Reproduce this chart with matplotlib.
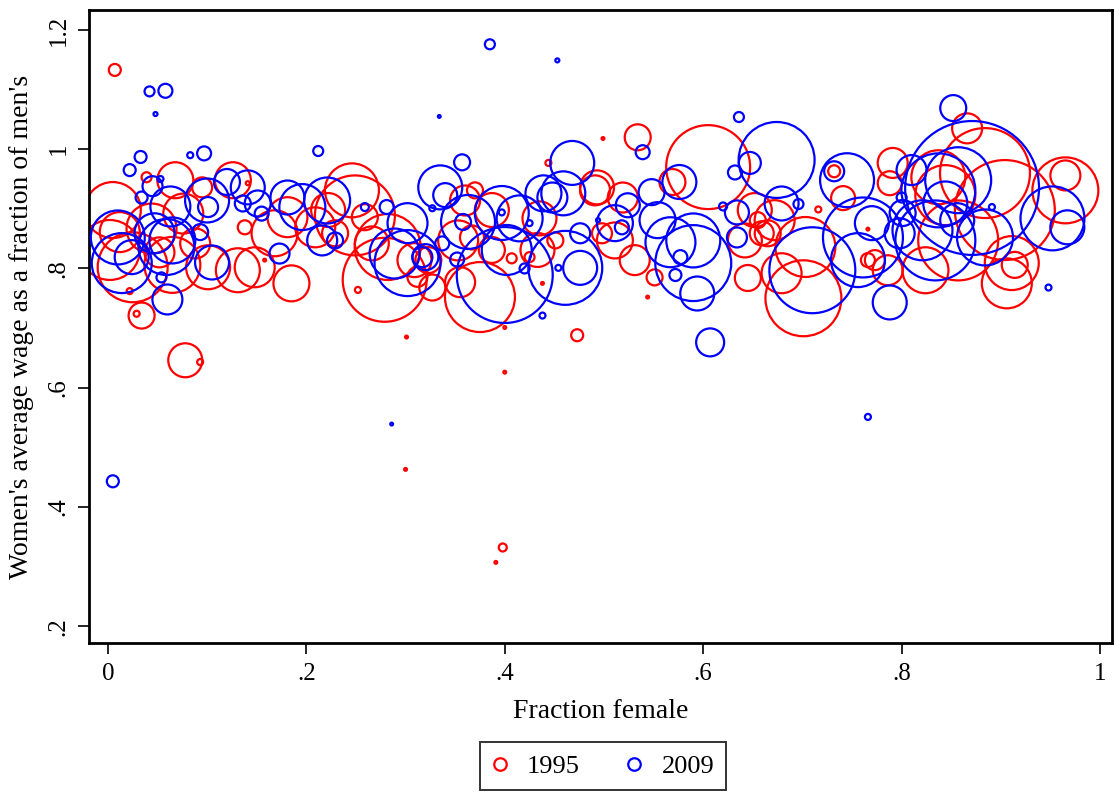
import numpy as np
import matplotlib.pyplot as plt
from matplotlib.lines import Line2D

plt.rcParams['font.family'] = ['Liberation Serif', 'DejaVu Serif']

# 1995: fraction female, relative wage, employment weight
frac_1995 = [.007, .005, .002, .025, .068, .034, .029, .078, .093, .095,
             .126, .101, .131, .138, .088, .039, .141, .012, .044, .052,
             .076, .022, .065,
             .246, .249, .168, .185, .148, .279, .282, .309, .312, .266,
             .259, .301, .158, .252, .209, .229, .181, .222,
             .444, .370, .360, .387, .353, .367, .387, .435, .433, .451,
             .407, .425, .375, .355, .491, .498, .473, .400, .438, .499,
             .323, .327, .400, .300, .398, .391,
             .534, .605, .569, .519, .493, .511, .531, .551, .544, .652,
             .642, .659, .645, .701, .655,
             .672, .665, .703, .679, .716, .732, .741, .766, .773, .766,
             .786, .791, .788, .824, .837,
             .866, .904, .884, .965, .965, .911, .914, .906, .857, .844]
wage_1995 = [1.133, .898, .831, .802, .948, .721, .724, .646, .643, .936,
             .948, .802, .797, .869, .842, .953, .943, .861, .867, .827,
             .892, .762, .806,
             .931, .889, .859, .775, .802, .781, .836, .814, .786, .842,
             .886, .685, .814, .764, .869, .859, .886, .898,
             .977, .931, .914, .898, .847, .852, .831, .884, .831, .847,
             .817, .819, .752, .777, .931, .859, .688, .701, .775, 1.018,
             .814, .768, .626, .463, .332, .307,
             1.020, .970, .945, .919, .936, .847, .814, .785, .752, .898,
             .847, .859, .784, .750, .881,
             .881, .859, .836, .792, .899, .963, .918, .866, .814, .814,
             .797, .977, .943, .797, .953,
             1.035, .898, .960, .931, .956, .809, .806, .775, .847, .923]
emp_1995 = [.36, 7.84, 9.0, 12.25, 3.24, 1.69, .09, 2.89, .09, 1.0,
            3.24, 4.84, 4.84, .49, 2.25, .25, .04, 4.0, 6.25, 2.25,
            4.0, .09, 7.84,
            7.29, 16.0, 5.29, 3.24, 4.0, 17.64, 10.89, 2.89, 1.0, 2.89,
            1.69, .02, .02, .09, 4.0, 1.69, 4.0, 2.89,
            .09, .64, 2.25, 2.89, 4.0, 1.44, 1.69, 2.89, 2.89, .64,
            .25, .25, 12.25, 2.25, 2.25, 1.0, .36, .02, .02, .02,
            1.69, 1.69, .02, .02, .16, .02,
            1.69, 17.64, 1.69, 2.25, 2.89, 3.24, 2.25, .64, .02, 2.89,
            2.89, 1.44, 1.69, 14.44, .64,
            4.0, 1.69, 9.0, 4.0, .09, .36, 1.44, .02, 1.0, .49,
            2.25, 2.25, 1.44, 5.29, 7.29,
            2.25, 25.0, 20.25, 10.89, 2.25, 7.29, 1.69, 6.25, 16.0, 9.0]

# 2009
frac_2009 = [.005, .048, .042, .058, .033, .022, .097, .083, .053, .045,
             .034, .063, .100, .120, .141, .151, .010, .014, .024, .047,
             .059, .065, .105, .093, .101, .054, .060, .136,
             .212, .181, .196, .221, .216, .173, .155, .259, .281, .302,
             .289, .302, .229, .317, .286, .385, .453,
             .334, .357, .335, .340, .327, .363, .358, .397, .415, .397,
             .425, .402, .400, .468, .439, .448, .459, .476, .461, .476,
             .454, .420, .438, .337, .352, .320,
             .636, .539, .576, .548, .524, .511, .518, .554, .567, .590,
             .590, .577, .572, .594, .607, .632, .647, .674, .634, .620,
             .634, .494,
             .679, .696, .745, .732, .710, .761, .770, .756, .788, .798,
             .810, .800, .801, .821, .837, .852, .766,
             .871, .857, .844, .856, .884, .834, .952, .967, .891, .948]
wage_2009 = [.443, 1.059, 1.097, 1.098, .987, .965, .993, .990, .950, .938,
             .919, .904, .914, .945, .936, .909, .852, .809, .819, .859,
             .836, .847, .810, .861, .903, .785, .748, .909,
             .997, .919, .903, .914, .847, .825, .892, .903, .903, .876,
             .825, .809, .847, .819, .539, 1.176, 1.149,
             1.055, .978, .936, .923, .901, .878, .878, .893, .884, .894,
             .876, .831, .789, .977, .926, .919, .926, .859, .801, .801,
             .801, .800, .721, .842, .815, .819,
             1.054, .995, .945, .928, .906, .876, .869, .881, .844, .847,
             .809, .819, .789, .758, .676, .961, .977, .982, .894, .904,
             .852, .881,
             .909, .908, .948, .963, .797, .852, .876, .814, .743, .859,
             .965, .919, .893, .864, .931, 1.069, .551,
             .935, .948, .909, .881, .852, .847, .884, .869, .903, .768]
emp_2009 = [.36, .04, .25, .49, .36, .36, .49, .09, .09, 1.0,
            .36, 4.0, 4.84, 1.69, 2.89, 1.69, 7.29, 9.0, 2.89, 4.0,
            7.84, 5.29, 2.89, .64, 1.0, .25, 2.25, .64,
            .25, 2.89, 5.29, 5.29, 2.25, 1.0, .49, .16, .49, 4.0,
            6.25, 10.89, .64, 1.0, .02, .25, .04,
            .02, .64, 4.84, 1.44, .09, 7.29, .64, 7.29, 5.29, .09,
            .09, 6.25, 23.04, 4.84, 3.24, 2.25, 4.84, 1.0, 13.69, 2.89,
            .09, .25, .09, .49, .49, 1.69,
            .25, .49, 2.89, 1.69, 1.44, 3.24, .49, 3.24, 6.25, 7.29,
            14.44, .49, .36, 2.89, 1.96, .49, 1.21, 14.44, 1.44, .16,
            1.0, .04,
            2.89, .25, 7.29, 1.0, 18.49, 16.0, 2.89, 7.29, 2.89, 2.25,
            2.25, .25, 1.69, 9.0, 13.69, 1.69, .09,
            44.89, 10.89, 4.84, 2.89, 7.84, 16.0, 10.24, 2.89, .09, .09]

xticks = [0, .2, .4, .6, .8, 1]
xtick_labels = ['0', '.2', '.4', '.6', '.8', '1']
yticks = [.2, .4, .6, .8, 1, 1.2]
ytick_labels = ['.2', '.4', '.6', '.8', '1', '1.2']

RED = '#ff0000'
BLUE = '#0000ff'
SCALE = 207.0  # marker area per unit of employment weight

fig = plt.figure(figsize=(11.14, 7.96), dpi=100)
ax = fig.add_axes([0.0799, 0.192, 0.9183, 0.7955])

ax.scatter(frac_1995, wage_1995, s=np.array(emp_1995) * SCALE,
           facecolors='none', edgecolors=RED, linewidths=1.6, zorder=2)
ax.scatter(frac_2009, wage_2009, s=np.array(emp_2009) * SCALE,
           facecolors='none', edgecolors=BLUE, linewidths=1.6, zorder=3)

ax.set_xlim(-0.019, 1.012)
ax.set_ylim(0.1715, 1.2336)

ax.set_xticks(xticks)
ax.set_xticklabels(xtick_labels, fontsize=18)
ax.set_yticks(yticks)
ax.set_yticklabels(ytick_labels, fontsize=18, rotation=90, va='center')
ax.tick_params(direction='out', length=8, width=1.2, pad=6)

for sp in ax.spines.values():
    sp.set_linewidth(2.0)

ax.set_xlabel('Fraction female', fontsize=20, labelpad=10)
ax.set_ylabel("Women's average wage as a fraction of men's", fontsize=20,
              labelpad=10)

handles = [Line2D([], [], ls='none', marker='o', markersize=9,
                  markerfacecolor='none', markeredgecolor=RED,
                  markeredgewidth=1.6, label='1995'),
           Line2D([], [], ls='none', marker='o', markersize=9,
                  markerfacecolor='none', markeredgecolor=BLUE,
                  markeredgewidth=1.6, label='2009')]
leg = fig.legend(handles=handles, loc='center', ncol=2,
                 bbox_to_anchor=(603 / 1114, 30 / 796), fontsize=19,
                 frameon=True, fancybox=False, edgecolor='black',
                 handlelength=0.6, handletextpad=0.72, columnspacing=1.78,
                 borderpad=0.45)
leg.get_frame().set_linewidth(1.4)

fig.savefig('out.png', dpi=100)
